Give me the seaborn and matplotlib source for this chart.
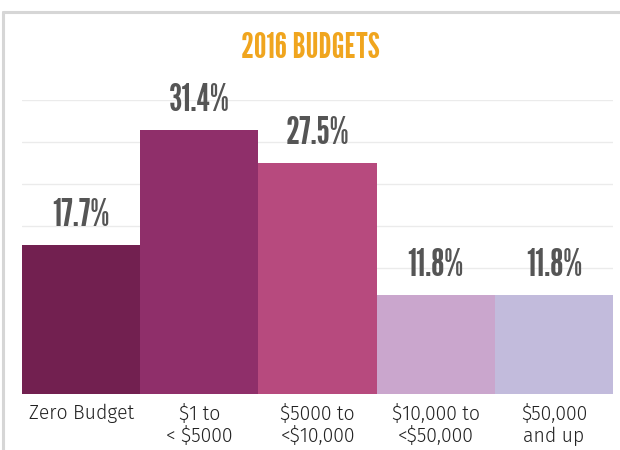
import matplotlib
matplotlib.use("Agg")
import matplotlib.pyplot as plt
from matplotlib.lines import Line2D
import seaborn as sns

# Data
categories = ["Zero Budget", "$1 to\n< $5000", "$5000 to\n<$10,000", "$10,000 to\n<$50,000", "$50,000\nand up"]
values = [17.7, 31.4, 27.5, 11.8, 11.8]
bar_colors = ["#722050", "#8F2F6A", "#B74A7E", "#CAA6CD", "#C2BBDC"]
title = "2016 BUDGETS"

condensed = ["League Gothic", "Oswald", "Barlow Condensed", "DejaVu Sans"]

sns.set_style("white")
plt.rcParams["font.family"] = ["Fira Sans", "Lato", "DejaVu Sans"]

fig = plt.figure(figsize=(6.2, 4.5), dpi=100)
ax = fig.add_axes([22 / 620, 56 / 450, 591 / 620, 294 / 450])

sns.barplot(x=categories, y=values, hue=categories, palette=bar_colors,
            width=1, saturation=1, legend=False, linewidth=0, ax=ax, zorder=2)

# value labels
for i, v in enumerate(values):
    ax.text(i, v + 2.25, f"{v}%", ha="center", va="baseline",
            fontsize=27.5, fontweight="bold", color="#555555", family=condensed)

ax.set_ylim(0, 35)
ax.set_xlim(-0.5, 4.5)
ax.set_yticks(range(0, 36, 5))
ax.set_yticklabels([])
ax.yaxis.grid(True, color="#EBEBEB", linewidth=1, zorder=0)
ax.set_axisbelow(True)
ax.tick_params(axis="both", length=0)
ax.tick_params(axis="x", pad=7, labelsize=14, labelcolor="#222222")
for lbl in ax.get_xticklabels():
    lbl.set_linespacing(1.15)
    lbl.set_fontweight(300)
ax.set_xlabel("")
ax.set_ylabel("")
sns.despine(ax=ax, left=True, bottom=True)

# title
fig.text(0.5, 1 - 49 / 450, title, ha="center", va="center",
         fontsize=25.5, color="#F0A51E", family=condensed)

# outer frame lines (top and left)
fig.add_artist(Line2D([3 / 620, 1.0], [1 - 12 / 450, 1 - 12 / 450],
                      transform=fig.transFigure, color="#D6D6D6", linewidth=2.2))
fig.add_artist(Line2D([3 / 620, 3 / 620], [0.0, 1 - 12 / 450],
                      transform=fig.transFigure, color="#D6D6D6", linewidth=2.2))

fig.savefig("out.png", dpi=100, facecolor="white")
